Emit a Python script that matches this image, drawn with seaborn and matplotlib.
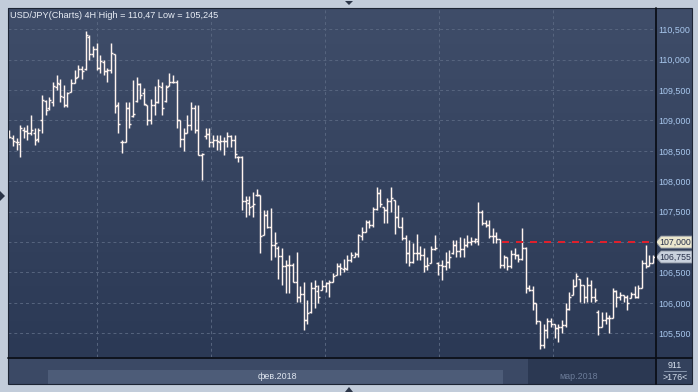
import numpy as np
import pandas as pd
import matplotlib
matplotlib.use("Agg")
import matplotlib.pyplot as plt
import matplotlib.transforms as mtransforms
from matplotlib.colors import LinearSegmentedColormap
from matplotlib.patches import Rectangle, Polygon
from matplotlib.lines import Line2D
import seaborn as sns

# USD/JPY 4H bars (open / high / low / close)
opens = [
    108.74, 108.72, 108.65, 108.62, 108.85, 108.83, 108.80, 108.80, 108.70, 109.00,
    109.32, 109.20, 109.30, 109.55, 109.60, 109.38, 109.25, 109.47, 109.62, 109.72,
    109.85, 109.85, 110.38, 110.10, 110.18, 109.86, 109.97, 109.82, 109.83, 110.10,
    109.25, 108.65, 108.65, 109.20, 109.08, 109.32, 109.60, 109.45, 109.26, 109.00,
    109.26, 109.30, 109.55, 109.32, 109.56, 109.64, 109.64, 109.00, 108.70, 108.80,
    108.93, 109.20, 108.84, 108.44, 108.74, 108.78, 108.65, 108.68, 108.65, 108.66,
    108.66, 108.74, 108.68, 108.40, 108.40, 107.67, 107.65, 107.60, 107.78, 107.78,
    107.12, 107.45, 107.25, 106.95, 106.90, 106.77, 106.60, 106.62, 106.62, 106.35,
    106.10, 106.14, 105.72, 105.85, 106.24, 106.20, 106.22, 106.28, 106.32, 106.35,
    106.46, 106.60, 106.55, 106.56, 106.70, 106.76, 106.80, 107.10, 107.17, 107.33,
    107.28, 107.55, 107.80, 107.58, 107.53, 107.67, 107.69, 107.42, 107.25, 107.06,
    106.82, 106.68, 106.82, 106.82, 106.78, 106.60, 106.65, 106.88, 106.66, 106.63,
    106.60, 106.68, 106.82, 106.95, 106.85, 106.88, 106.95, 107.00, 107.02, 107.02,
    107.50, 107.32, 107.28, 107.10, 107.10, 107.05, 106.62, 106.75, 106.60, 106.80,
    106.78, 106.72, 106.90, 106.25, 106.22, 106.00, 105.70, 105.30, 105.55, 105.70,
    105.65, 105.58, 105.60, 105.63, 105.90, 106.13, 106.28, 106.40, 106.30, 106.10,
    106.30, 106.10, 105.85, 105.60, 105.72, 105.75, 105.75, 106.20, 106.10, 106.13,
    106.10, 106.08, 106.15, 106.10, 106.25, 106.65, 106.60, 106.65,
]
highs = [
    108.84, 108.76, 108.71, 108.93, 108.90, 108.93, 109.09, 108.87, 108.87, 109.42,
    109.34, 109.39, 109.64, 109.75, 109.69, 109.58, 109.47, 109.69, 109.83, 109.91,
    109.89, 110.47, 110.41, 110.22, 110.27, 110.08, 109.99, 109.86, 110.27, 110.10,
    109.31, 108.68, 109.31, 109.31, 109.67, 109.72, 109.61, 109.53, 109.26, 109.36,
    109.56, 109.69, 109.64, 109.58, 109.78, 109.75, 109.67, 109.01, 108.87, 109.09,
    109.31, 109.26, 109.26, 108.46, 108.87, 108.87, 108.76, 108.76, 108.76, 108.73,
    108.81, 108.76, 108.76, 108.41, 108.41, 107.75, 107.75, 107.83, 107.88, 107.78,
    107.53, 107.53, 107.56, 107.17, 106.93, 106.90, 106.71, 106.79, 106.65, 106.84,
    106.27, 106.35, 106.05, 106.35, 106.38, 106.30, 106.38, 106.35, 106.38, 106.49,
    106.65, 106.65, 106.73, 106.79, 106.84, 106.84, 107.14, 107.25, 107.36, 107.36,
    107.58, 107.91, 107.88, 107.58, 107.72, 107.91, 107.69, 107.61, 107.42, 107.12,
    107.03, 106.98, 107.14, 106.93, 106.90, 106.76, 106.93, 107.12, 106.68, 106.71,
    106.84, 106.87, 107.03, 107.03, 107.09, 107.06, 107.12, 107.09, 107.06, 107.66,
    107.53, 107.36, 107.36, 107.23, 107.17, 107.05, 106.79, 106.76, 106.87, 106.90,
    106.81, 107.23, 106.92, 106.30, 106.27, 106.00, 105.70, 105.66, 105.75, 105.75,
    105.66, 105.66, 105.72, 105.99, 106.18, 106.40, 106.49, 106.40, 106.30, 106.43,
    106.38, 106.24, 105.88, 105.85, 105.85, 105.80, 106.24, 106.21, 106.18, 106.13,
    106.13, 106.18, 106.27, 106.30, 106.71, 106.95, 106.79, 106.79,
]
lows = [
    108.72, 108.58, 108.52, 108.40, 108.71, 108.68, 108.76, 108.59, 108.65, 108.80,
    109.09, 109.17, 109.23, 109.50, 109.31, 109.22, 109.22, 109.47, 109.61, 109.72,
    109.69, 109.83, 109.99, 110.05, 109.83, 109.78, 109.75, 109.64, 109.78, 109.12,
    108.80, 108.46, 108.65, 108.87, 109.06, 109.31, 109.36, 109.26, 108.93, 108.95,
    109.09, 109.28, 109.09, 109.31, 109.56, 109.61, 108.87, 108.57, 108.49, 108.79,
    108.84, 108.79, 108.43, 108.02, 108.70, 108.57, 108.57, 108.52, 108.52, 108.43,
    108.57, 108.57, 108.38, 108.32, 107.53, 107.42, 107.45, 107.42, 107.75, 106.82,
    107.12, 107.23, 106.71, 106.76, 106.40, 106.30, 106.16, 106.16, 106.35, 106.02,
    106.02, 105.55, 105.66, 105.83, 105.91, 105.99, 106.21, 106.18, 106.10, 106.35,
    106.46, 106.46, 106.51, 106.54, 106.68, 106.76, 106.76, 107.03, 107.17, 107.23,
    107.25, 107.53, 107.58, 107.31, 107.31, 107.50, 107.14, 107.25, 107.03, 106.65,
    106.60, 106.65, 106.71, 106.71, 106.51, 106.54, 106.65, 106.87, 106.46, 106.38,
    106.54, 106.57, 106.81, 106.76, 106.76, 106.76, 106.92, 106.95, 106.98, 106.95,
    107.28, 107.25, 107.06, 106.98, 106.98, 106.57, 106.57, 106.54, 106.57, 106.73,
    106.68, 106.70, 106.16, 106.19, 105.88, 105.66, 105.245, 105.25, 105.42, 105.61,
    105.42, 105.36, 105.50, 105.61, 105.88, 106.13, 106.27, 106.02, 105.99, 106.02,
    106.02, 106.02, 105.47, 105.60, 105.66, 105.50, 105.75, 105.94, 106.05, 106.02,
    105.88, 106.08, 106.08, 106.08, 106.25, 106.57, 106.60, 106.65,
]
closes = [
    108.73, 108.66, 108.65, 108.88, 108.82, 108.80, 108.84, 108.68, 108.84, 109.33,
    109.18, 109.33, 109.56, 109.62, 109.40, 109.25, 109.45, 109.62, 109.70, 109.85,
    109.82, 110.40, 110.10, 110.18, 109.86, 109.98, 109.82, 109.83, 110.11, 109.23,
    108.95, 108.65, 109.20, 108.95, 109.10, 109.60, 109.42, 109.27, 109.00, 109.26,
    109.30, 109.56, 109.20, 109.55, 109.64, 109.64, 109.00, 108.70, 108.80, 108.93,
    109.20, 108.84, 108.44, 108.45, 108.77, 108.65, 108.68, 108.66, 108.66, 108.66,
    108.74, 108.68, 108.45, 108.40, 107.67, 107.69, 107.58, 107.62, 107.78, 107.10,
    107.45, 107.25, 106.95, 106.98, 106.77, 106.60, 106.62, 106.62, 106.35, 106.10,
    106.14, 105.72, 105.83, 106.24, 106.27, 106.10, 106.28, 106.32, 106.35, 106.45,
    106.60, 106.57, 106.57, 106.70, 106.78, 106.80, 107.12, 107.17, 107.33, 107.28,
    107.55, 107.80, 107.63, 107.53, 107.67, 107.72, 107.42, 107.25, 107.06, 106.82,
    106.68, 106.82, 106.82, 106.78, 106.60, 106.62, 106.88, 106.90, 106.63, 106.60,
    106.68, 106.75, 106.95, 106.85, 106.88, 106.95, 107.00, 107.02, 107.05, 107.50,
    107.32, 107.28, 107.10, 107.10, 107.05, 106.62, 106.75, 106.60, 106.80, 106.78,
    106.72, 106.90, 106.25, 106.22, 106.00, 105.70, 105.30, 105.55, 105.70, 105.65,
    105.58, 105.60, 105.63, 105.90, 106.10, 106.28, 106.45, 106.30, 106.10, 106.30,
    106.10, 106.05, 105.60, 105.72, 105.75, 105.75, 106.20, 106.10, 106.13, 106.10,
    106.00, 106.15, 106.10, 106.25, 106.65, 106.60, 106.65, 106.755,
]

# axis labels
week_ticks = [24.1, 55.5, 86.9, 118.2, 149.6]   # bar index of each Monday
week_labels = ["05", "12", "19", "26", "05"]
price_ticks = [105.5, 106.0, 106.5, 107.0, 107.5, 108.0, 108.5, 109.0, 109.5, 110.0, 110.5]

alert_level = 107.0
alert_start = 135.5
last_price = closes[-1]

title = "USD/JPY(Charts) 4H High = 110,47 Low = 105,245"

bars = pd.DataFrame({"open": opens, "high": highs, "low": lows, "close": closes})
bars["i"] = np.arange(len(bars))

sns.set_style("dark")
plt.rcParams["font.family"] = ["Liberation Sans", "DejaVu Sans"]

W, H = 698, 392
fig = plt.figure(figsize=(W / 100, H / 100), dpi=100)
fig.patch.set_facecolor("#c2ccda")


def box(x0, y0, x1, y1):
    # pixel box (from top-left) -> figure fraction rect
    return [x0 / W, 1 - y1 / H, (x1 - x0) / W, (y1 - y0) / H]


def rect(x0, y0, x1, y1, color, **kw):
    fig.patches.append(Rectangle((x0 / W, 1 - y1 / H), (x1 - x0) / W, (y1 - y0) / H,
                                 transform=fig.transFigure, facecolor=color,
                                 edgecolor="none", **kw))


def fline(xs, ys, color, lw):
    fig.lines.append(Line2D([x / W for x in xs], [1 - y / H for y in ys],
                            transform=fig.transFigure, color=color, lw=lw))


# gradient backdrop (plot + price scale)
bg = fig.add_axes(box(8, 8, 692, 357))
grad = np.linspace(0, 1, 200).reshape(-1, 1)
cmap = LinearSegmentedColormap.from_list("bg", ["#3f4d69", "#2b3955"])
bg.imshow(grad, aspect="auto", cmap=cmap, extent=[0, 1, 0, 1])
bg.set_axis_off()

# time scale strip
rect(8, 357, 692, 384, "#3b4965")
rect(48, 370, 503, 384, "#4d5c78")
rect(528, 358, 655, 384, "#2b3852")
rect(655, 357, 692, 384, "#33415c")

# main chart
ax = fig.add_axes(box(8, 8, 655, 357))
ax.patch.set_alpha(0)
for s in ax.spines.values():
    s.set_visible(False)
ax.set_xlim(-0.36, 177.6)
ax.set_ylim(105.11, 110.85)

ax.set_axisbelow(True)
ax.grid(True, color="#57657f", linestyle=(0, (3, 3)), lw=0.7)

bar_color = "#fff4ef"
ax.vlines(bars["i"], bars["low"], bars["high"], color=bar_color, lw=1.05, zorder=3)
ax.hlines(bars["open"], bars["i"] - 0.55, bars["i"], color=bar_color, lw=1.05, zorder=3)
ax.hlines(bars["close"], bars["i"], bars["i"] + 0.55, color=bar_color, lw=1.05, zorder=3)

x0, x1 = ax.get_xlim()
ax.axhline(alert_level, xmin=(alert_start - x0) / (x1 - x0), xmax=1,
           color="#e3202b", lw=1.4, linestyle=(0, (3.6, 3.6)), zorder=4)

# price scale labels (the 107,000 level is shown by its tag instead)
ax.yaxis.tick_right()
ax.set_yticks(price_ticks)
ax.set_yticklabels(["" if v == alert_level else f"{v:.3f}".replace(".", ",")
                    for v in price_ticks])
ax.tick_params(axis="y", length=0, pad=2.5, labelsize=6.4, labelcolor="#a9c8ee")
ax.set_xticks(week_ticks)
ax.set_xticklabels(week_labels)
ax.tick_params(axis="x", length=0, pad=3.2, labelsize=6.4, labelcolor="#dce5f1")
ax.get_xticklabels()[-1].set_color("#6c7c99")

# price tags on the scale
blend = mtransforms.blended_transform_factory(fig.transFigure, ax.transData)
px_per_unit = (357 - 8) / (110.85 - 105.11)
half = 6 / px_per_unit
for val, lab, fc in [(alert_level, "107,000", "#ebe7cd"), (last_price, "106,755", "#c9d1dd")]:
    pts = [(656 / W, val), (661 / W, val + half), (692 / W, val + half),
           (692 / W, val - half), (661 / W, val - half)]
    ax.add_patch(Polygon(pts, closed=True, transform=blend, facecolor=fc,
                         edgecolor="#8c93a0", lw=0.6, clip_on=False, zorder=6))
    ax.text(675.5 / W, val, lab, transform=blend, ha="center", va="center",
            fontsize=6.3, color="#27304a", clip_on=False, zorder=7)

# separators and frame
fline([8, 692], [357.5, 357.5], "#0b0f18", 1.3)
fline([655.5, 655.5], [8, 384], "#0b0f18", 1.3)
fig.patches.append(Rectangle((8 / W, 1 - 384 / H), 684 / W, 376 / H, transform=fig.transFigure,
                             facecolor="none", edgecolor="#1c2434", lw=0.8))
fline([664, 686], [371, 371], "#8695ad", 0.7)

# texts
fig.text(10.5 / W, 1 - 15 / H, title, ha="left", va="center", fontsize=6.6, color="#e9eef6")
fig.text(277 / W, 1 - 376.5 / H, "фев.2018", ha="center", va="center", fontsize=6.4, color="#e0e7f1")
fig.text(579 / W, 1 - 376.5 / H, "мар.2018", ha="center", va="center", fontsize=6.4, color="#6c7c99")
fig.text(675 / W, 1 - 365 / H, "911", ha="center", va="center", fontsize=6.4, color="#d6e0ee")
fig.text(675 / W, 1 - 378 / H, ">176<", ha="center", va="center", fontsize=6.4, color="#d6e0ee")

# small scroll arrows on the frame
for tri in ([(345, 1), (353, 1), (349, 5)], [(0, 191), (0, 201), (5, 196)],
            [(345, 392), (353, 392), (349, 387)]):
    fig.patches.append(Polygon([(x / W, 1 - y / H) for x, y in tri], closed=True,
                               transform=fig.transFigure, facecolor="#2b3548", edgecolor="none"))

fig.savefig("out.png", dpi=100, facecolor=fig.get_facecolor())
